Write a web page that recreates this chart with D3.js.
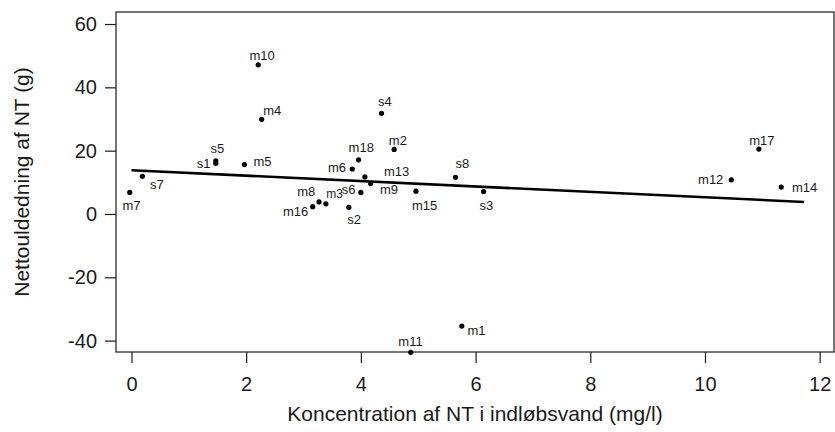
<!DOCTYPE html>
<html>
<head>
<meta charset="utf-8">
<script src="https://cdn.jsdelivr.net/npm/d3@7"></script>
<style>
  html, body { margin: 0; padding: 0; background: #fff; }
  svg { display: block; font-family: "Liberation Sans", Arial, Helvetica, sans-serif; }
</style>
</head>
<body>
<svg id="chart" width="835" height="432"></svg>
<script>
// Sample site names, inflow N concentration (mg/l) and net N release (g)
const sites = ["m1","m2","m3","m4","m5","m6","m7","m8","m9","m10","m11","m12","m13","m14","m15","m16","m17","m18",
               "s1","s2","s3","s4","s5","s6","s7","s8"];
const concentration = [5.76, 4.58, 3.39, 2.27, 1.97, 3.85, -0.03, 3.27, 4.17, 2.21, 4.87, 10.46, 4.07, 11.33, 4.96, 3.16, 10.94, 3.96,
                       1.47, 3.79, 6.14, 4.36, 1.47, 4.00, 0.19, 5.65];
const netRelease = [-35.4, 20.4, 3.2, 29.9, 15.6, 14.2, 6.8, 3.8, 9.6, 47.1, -43.7, 10.8, 11.7, 8.5, 7.2, 2.3, 20.5, 17.1,
                    16.0, 2.1, 7.1, 31.8, 16.8, 6.8, 11.9, 11.6];

// Fitted line, given by its two end points
const fitX = [0, 11.73];
const fitY = [13.8, 3.8];

const xTicks = [0, 2, 4, 6, 8, 10, 12];
const yTicks = [-40, -20, 0, 20, 40, 60];

// Label offsets (px) relative to each point: [dx, dy, anchor]
const labelPlacement = {
  m1: [5.6, 9, "start"], m2: [-5.3, -4.3, "start"], m3: [0.4, -6, "start"], m4: [1.6, -4.7, "start"],
  m5: [9, 1.7, "start"], m6: [-6.3, 3.3, "end"], m7: [-7.3, 17.7, "start"], m8: [-3.7, -6, "end"],
  m9: [9.3, 10.3, "start"], m10: [-8.7, -5, "start"], m11: [-12.4, -6.3, "start"], m12: [-8, 4.3, "end"],
  m13: [19, -1, "start"], m14: [10.7, 4.7, "start"], m15: [-4, 19, "start"], m16: [-4.4, 9.3, "end"],
  m17: [-9.7, -4, "start"], m18: [-10, -8, "start"],
  s1: [-5.3, 4.4, "end"], s2: [-1.6, 16.3, "start"], s3: [-4, 18.7, "start"], s4: [-3.4, -7, "start"],
  s5: [-5.3, -7.4, "start"], s6: [-5.4, 1.7, "end"], s7: [7.6, 13, "start"], s8: [0, -9.6, "start"]
};

const box = { left: 116, right: 834, top: 12, bottom: 352 };

const x = d3.scaleLinear().domain([-0.27, 12.25]).range([box.left, box.right]);
const y = d3.scaleLinear().domain([-43.6, 63.8]).range([box.bottom, box.top]);

const svg = d3.select("#chart");
const ink = "#1a1a1a";

// Frame
svg.append("rect")
  .attr("x", box.left).attr("y", box.top)
  .attr("width", box.right - box.left).attr("height", box.bottom - box.top)
  .attr("fill", "none").attr("stroke", ink).attr("stroke-width", 1.2);

// Axes (plain hyphen for negative values)
const plain = d => String(d);
const yAxis = svg.append("g")
  .attr("transform", `translate(${box.left},0)`)
  .call(d3.axisLeft(y).tickValues(yTicks).tickSize(11).tickPadding(8).tickFormat(plain));
const xAxis = svg.append("g")
  .attr("transform", `translate(0,${box.bottom})`)
  .call(d3.axisBottom(x).tickValues(xTicks).tickSize(11).tickPadding(14).tickFormat(plain));

[xAxis, yAxis].forEach(g => {
  g.select(".domain").remove();
  g.selectAll(".tick line").attr("stroke", ink).attr("stroke-width", 1.2);
  g.selectAll(".tick text")
    .attr("fill", ink)
    .style("font-size", "20px")
    .style("font-family", "\"Liberation Sans\", Arial, sans-serif");
});

// Axis titles
svg.append("text")
  .attr("x", (box.left + box.right) / 2).attr("y", 421)
  .attr("text-anchor", "middle").attr("fill", ink)
  .style("font-size", "21px")
  .text("Koncentration af NT i indløbsvand (mg/l)");

svg.append("text")
  .attr("transform", `translate(29,${(box.top + box.bottom) / 2}) rotate(-90)`)
  .attr("text-anchor", "middle").attr("fill", ink)
  .style("font-size", "21px")
  .text("Nettouldedning af NT (g)");

// Fitted line
const fitPts = fitX.map((v, i) => [v, fitY[i]]);
svg.append("path")
  .attr("d", d3.line().x(d => x(d[0])).y(d => y(d[1]))(fitPts))
  .attr("stroke", "#000").attr("stroke-width", 2.6).attr("fill", "none");

// Points and labels
const points = sites.map((s, i) => ({ site: s, cx: concentration[i], ny: netRelease[i] }));

svg.append("g").selectAll("circle")
  .data(points).join("circle")
  .attr("cx", d => x(d.cx)).attr("cy", d => y(d.ny))
  .attr("r", 2.6).attr("fill", "#000");

// m3 and s6 sit tightly together; trim m3's size slightly so the two stay apart
svg.append("g").selectAll("text")
  .data(points).join("text")
  .attr("x", d => x(d.cx) + labelPlacement[d.site][0])
  .attr("y", d => y(d.ny) + labelPlacement[d.site][1])
  .attr("text-anchor", d => labelPlacement[d.site][2])
  .attr("fill", ink)
  .style("font-size", d => d.site === "m3" ? "12px" : "13px")
  .text(d => d.site);
</script>
</body>
</html>
